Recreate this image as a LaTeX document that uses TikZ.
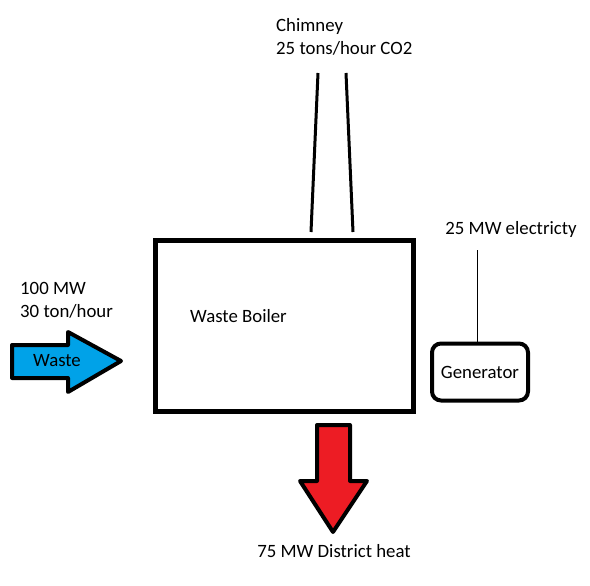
\documentclass[tikz,border=0pt]{standalone}
\usepackage{fontspec}
\setmainfont{Carlito}
\begin{document}
\begin{tikzpicture}[x=1pt,y=-1pt,
  lbl/.style={font=\fontsize{18.8}{23}\selectfont, inner sep=0pt, align=left},
  thick4/.style={line width=5pt},
  arrowshape/.style={line width=4pt, line join=round}]
\useasboundingbox (0,0) rectangle (590,586);
% boiler
\node[draw, thick4, minimum width=258pt, minimum height=171pt, anchor=north west, inner sep=0pt] (boiler) at (152.5,237.5) {};
\node[lbl, anchor=west] (boilertxt) at (190,316) {Waste Boiler};
% chimney
\coordinate (c1t) at (318,73);
\coordinate (c1b) at (311,232);
\coordinate (c2t) at (346,73);
\coordinate (c2b) at (353,232);
\draw[line width=3pt] (c1t) -- (c1b);
\draw[line width=3pt] (c2t) -- (c2b);
\node[lbl, anchor=north west] (chim) at (276,18) {Chimney\\25 tons/hour CO2};
% waste arrow
\draw[arrowshape, fill={rgb,255:red,0;green,162;blue,232}] (12,345) -- (68,345) -- (68,332) -- (121,361) -- (68,392) -- (68,378) -- (12,378) -- cycle;
\node[lbl] (waste) at (57,361) {Waste};
\node[lbl, anchor=north west] (input) at (20,282) {100 MW\\30 ton/hour};
% heat arrow
\draw[arrowshape, fill={rgb,255:red,237;green,28;blue,36}] (317,425) -- (350,425) -- (350,481) -- (367,481) -- (333,532) -- (300,481) -- (317,481) -- cycle;
\node[lbl] (heat) at (334,551) {75 MW District heat};
% generator
\node[draw, line width=4pt, rounded corners=9pt, minimum width=96pt, minimum height=57pt, inner sep=0pt, font=\fontsize{18.8}{23}\selectfont] (gen) at (480,372) {Generator};
\node[lbl] (elec) at (511,229) {25 MW electricty};
\coordinate (etop) at (477,250);
\draw[line width=0.9pt] (etop) -- (etop |- gen.north) ++(0,-7pt);
\end{tikzpicture}
\end{document}
